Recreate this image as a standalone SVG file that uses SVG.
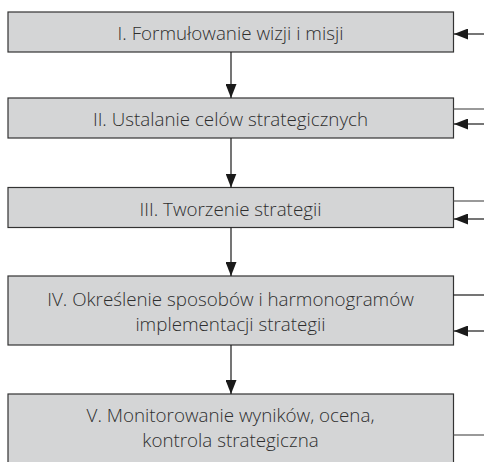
<svg xmlns="http://www.w3.org/2000/svg" width="484" height="462" viewBox="0 0 484 462">
<defs>
<marker id="ah" markerWidth="14" markerHeight="11" refX="14" refY="5.5" orient="auto" markerUnits="userSpaceOnUse">
<path d="M0,0 L14,5.5 L0,11 Z" fill="#1a1a1a"/>
</marker>
</defs>
<style>
.box{fill:#d4d5d6;stroke:#333;stroke-width:1.2}
.t{font-family:"Open Sans","Noto Sans",sans-serif;font-size:18.8px;font-weight:300;fill:#2e2e2e;text-anchor:middle}
.c{stroke:#1a1a1a;stroke-width:1.2;fill:none}
.l{stroke:#555;stroke-width:1.2;fill:none}
</style>
<rect width="484" height="462" fill="#fff"/>
<g id="n1"><rect class="box" x="8" y="12" width="445.5" height="40"/><text class="t" x="230.5" y="40">I. Formułowanie wizji i misji</text></g>
<g id="n2"><rect class="box" x="8" y="98" width="445.5" height="40"/><text class="t" x="230.5" y="126">II. Ustalanie celów strategicznych</text></g>
<g id="n3"><rect class="box" x="8" y="187.5" width="445.5" height="40"/><text class="t" x="230.5" y="215.5">III. Tworzenie strategii</text></g>
<g id="n4"><rect class="box" x="8" y="276" width="445.5" height="69"/><text class="t" x="230.5" y="306">IV. Określenie sposobów i harmonogramów</text><text class="t" x="230.5" y="331">implementacji strategii</text></g>
<g id="n5"><rect class="box" x="8" y="394" width="445.5" height="80"/><text class="t" x="230.5" y="422">V. Monitorowanie wyników, ocena,</text><text class="t" x="230.5" y="447">kontrola strategiczna</text></g>
<g id="connectors">
<line class="c" x1="231" y1="52" x2="231" y2="98" marker-end="url(#ah)"/>
<line class="c" x1="231" y1="138" x2="231" y2="187.5" marker-end="url(#ah)"/>
<line class="c" x1="231" y1="227.5" x2="231" y2="276" marker-end="url(#ah)"/>
<line class="c" x1="231" y1="345" x2="231" y2="394" marker-end="url(#ah)"/>
<line class="c" x1="484" y1="34" x2="454" y2="34" marker-end="url(#ah)"/>
<line class="l" x1="453.5" y1="109" x2="484" y2="109"/>
<line class="c" x1="484" y1="124" x2="454" y2="124" marker-end="url(#ah)"/>
<line class="l" x1="453.5" y1="201" x2="484" y2="201"/>
<line class="c" x1="484" y1="219" x2="454" y2="219" marker-end="url(#ah)"/>
<line class="c" x1="453.5" y1="295" x2="484" y2="295"/>
<line class="c" x1="484" y1="331" x2="454" y2="331" marker-end="url(#ah)"/>
<line class="l" x1="453.5" y1="435" x2="484" y2="435"/>
</g>
</svg>
